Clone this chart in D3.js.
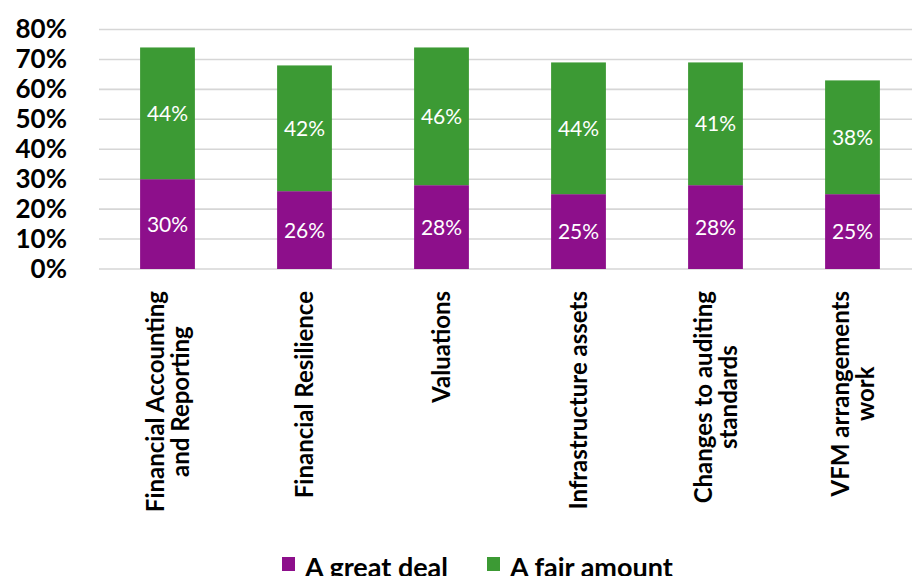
<!DOCTYPE html>
<html>
<head>
<meta charset="utf-8">
<script src="https://cdn.jsdelivr.net/npm/d3@7"></script>
<style>
  html, body { margin: 0; padding: 0; background: #fff; }
  svg { display: block; font-family: Lato, "Open Sans", sans-serif; }
</style>
</head>
<body>
<svg id="chart" width="912" height="576"></svg>
<script>
// Survey topics and the share of respondents in each answer band
const categories = [
  ["Financial Accounting", "and Reporting"],
  ["Financial Resilience"],
  ["Valuations"],
  ["Infrastructure assets"],
  ["Changes to auditing", "standards"],
  ["VFM arrangements", "work"]
];
const greatDeal  = [30, 26, 28, 25, 28, 25];
const fairAmount = [44, 42, 46, 44, 41, 38];
const seriesNames = ["A great deal", "A fair amount"];
const seriesColors = ["#8d0f8b", "#3c9a34"];
const yTicks = [0, 10, 20, 30, 40, 50, 60, 70, 80];

const svg = d3.select("#chart");
const plotLeft = 99, plotRight = 921, plotTop = 29.5, plotBottom = 269;

const keys = categories.map(c => c.join(" "));
const x = d3.scaleBand().domain(keys).range([plotLeft, plotRight]).paddingInner(0.6).paddingOuter(0.3);
const y = d3.scaleLinear().domain([0, 80]).range([plotBottom, plotTop]);

// Gridlines
svg.append("g").selectAll("line").data(yTicks).join("line")
  .attr("x1", plotLeft).attr("x2", plotRight)
  .attr("y1", d => y(d)).attr("y2", d => y(d))
  .attr("stroke", "#d6d6d6").attr("stroke-width", 1.6);

// Y axis labels
const yAxis = d3.axisLeft(y).tickValues(yTicks).tickFormat(d => d + "%").tickSize(0).tickPadding(0);
const yg = svg.append("g").attr("transform", "translate(67,0)").call(yAxis);
yg.select(".domain").remove();
yg.selectAll("text")
  .attr("font-family", "Lato, sans-serif")
  .attr("font-size", 26).attr("font-weight", 700).attr("fill", "#000");

// Stacked bars
const rows = keys.map((k, i) => ({ key: k, great: greatDeal[i], fair: fairAmount[i] }));
const stack = d3.stack().keys(["great", "fair"])(rows);

const layers = svg.append("g").selectAll("g").data(stack).join("g")
  .attr("fill", (d, i) => seriesColors[i]);
layers.selectAll("rect").data(d => d).join("rect")
  .attr("x", d => x(d.data.key))
  .attr("width", x.bandwidth())
  .attr("y", d => y(d[1]))
  .attr("height", d => y(d[0]) - y(d[1]));

// Value labels centred in each segment
const labels = svg.append("g");
stack.forEach(layer => {
  labels.selectAll(null).data(layer).join("text")
    .attr("x", d => x(d.data.key) + x.bandwidth() / 2)
    .attr("y", d => y((d[0] + d[1]) / 2))
    .attr("dy", "0.36em")
    .attr("text-anchor", "middle")
    .attr("font-size", 21)
    .attr("fill", "#fff")
    .text(d => (d[1] - d[0]) + "%");
});

// Rotated category labels
const catTop = 291, lineGap = 25;
categories.forEach((lines, i) => {
  const cx = x(keys[i]) + x.bandwidth() / 2;
  const g = svg.append("g");
  const texts = lines.map((ln, j) => g.append("text")
    .attr("font-size", 24).attr("font-weight", 700).attr("fill", "#000")
    .attr("text-anchor", "middle")
    .text(ln));
  const maxLen = d3.max(texts, t => t.node().getComputedTextLength());
  const cy = catTop + maxLen / 2;
  texts.forEach((t, j) => {
    const off = (j - (lines.length - 1) / 2) * lineGap;
    t.attr("transform", `translate(${cx + off},${cy}) rotate(-90)`)
     .attr("dy", "0.36em");
  });
});

// Legend
const legend = svg.append("g");
const legendItems = [
  { name: seriesNames[0], color: seriesColors[0], x: 282 },
  { name: seriesNames[1], color: seriesColors[1], x: 487 }
];
legendItems.forEach(it => {
  legend.append("rect").attr("x", it.x).attr("y", 557).attr("width", 13).attr("height", 14)
    .attr("fill", it.color);
  legend.append("text").attr("x", it.x + 23).attr("y", 577)
    .attr("font-size", 27).attr("font-weight", 700).attr("fill", "#000")
    .text(it.name);
});
</script>
</body>
</html>
